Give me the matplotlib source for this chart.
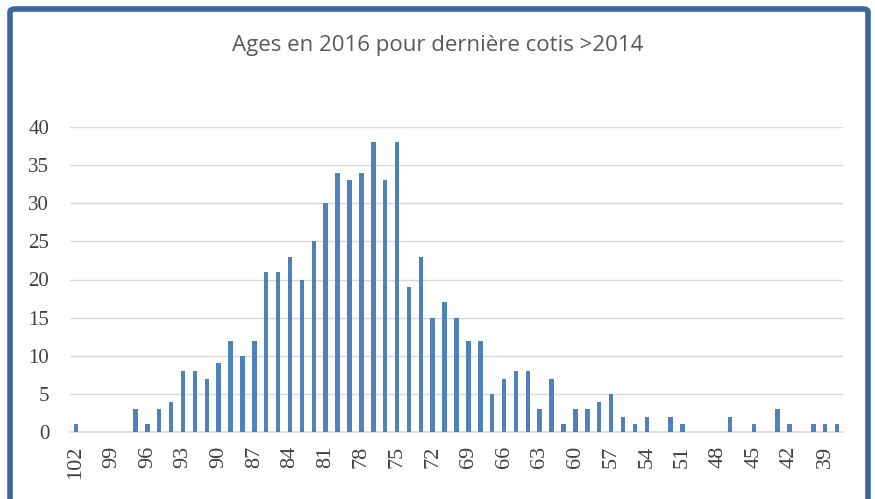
import numpy as np
import matplotlib.pyplot as plt
from matplotlib.patches import FancyBboxPatch

# ages de 102 a 38 (ordre decroissant) et effectifs
ages = list(range(102, 37, -1))
effectifs = [1, 0, 0, 0, 0, 3, 1, 3, 4, 8,
             8, 7, 9, 12, 10, 12, 21, 21, 23, 20,
             25, 30, 34, 33, 34, 38, 33, 38, 19, 23,
             15, 17, 15, 12, 12, 5, 7, 8, 8, 3,
             7, 1, 3, 3, 4, 5, 2, 1, 2, 0,
             2, 1, 0, 0, 0, 2, 0, 1, 0, 3,
             1, 0, 1, 1, 1]
titre = 'Ages en 2016 pour dernière cotis >2014'

fig = plt.figure(figsize=(8.75, 4.99), dpi=100)
ax = fig.add_axes([70 / 875, 67 / 499, 773 / 875, 305 / 499])

x = np.arange(len(ages))
ax.bar(x, effectifs, width=0.38, color='#4F81BD', zorder=3)

ax.set_xlim(-0.5, len(ages) - 0.5)
ax.set_ylim(0, 40)
ax.set_yticks(range(0, 41, 5))
ax.set_xticks(x[::3])
ax.set_xticklabels([str(a) for a in ages[::3]], rotation=90,
                   fontsize=16, family='Liberation Serif', color='#404040')
for lab in ax.get_yticklabels():
    lab.set_fontsize(15)
    lab.set_family('Liberation Serif')
    lab.set_color('#404040')

ax.grid(axis='y', color='#D9D9D9', linewidth=1, zorder=0)
ax.tick_params(axis='y', length=0, pad=15)
ax.tick_params(axis='x', length=0, pad=10)
for s in ['top', 'right', 'left']:
    ax.spines[s].set_visible(False)
ax.spines['bottom'].set_color('#D9D9D9')
ax.spines['bottom'].set_linewidth(1.2)

fig.text(438 / 875, 1 - 46 / 499, titre, ha='center', va='center',
         fontsize=16, family='Open Sans', color='#595959')

# cadre bleu du graphique
cadre = FancyBboxPatch((10 / 875, -0.05), 858 / 875, 1.05 - 9 / 499,
                       boxstyle='round,pad=0,rounding_size=0.006',
                       transform=fig.transFigure, fill=False,
                       edgecolor='#3A659D', linewidth=4, clip_on=False)
fig.patches.append(cadre)

plt.savefig('out.png', dpi=100)
